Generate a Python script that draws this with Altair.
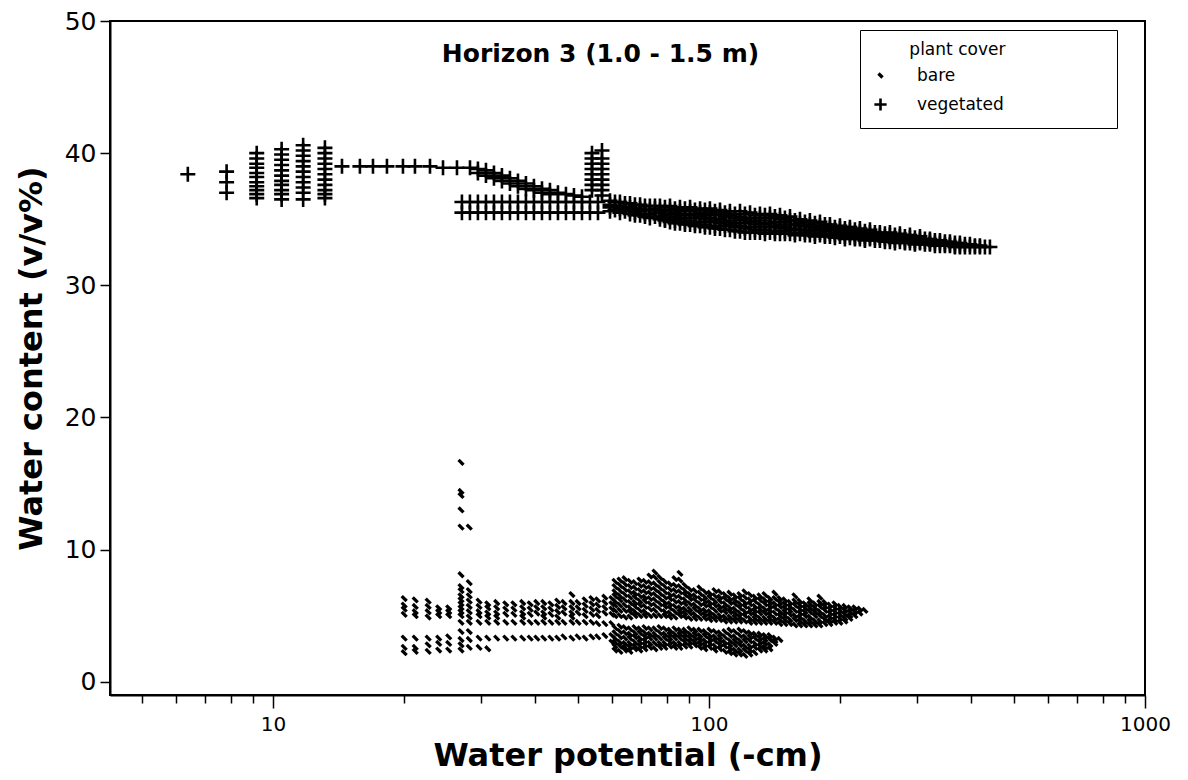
import altair as alt
import pandas as pd

# ---------------- data ----------------
# vegetated: column positions (water potential, -cm) and the water contents in each column
veg_x = [6.38, 7.83, 9.18, 10.47, 11.73, 13.16,
         14.40, 15.83, 16.96, 18.26, 19.87, 21.17, 22.92, 24.55, 26.43, 28.31,
         29.52, 30.80, 32.13, 33.51, 34.96, 36.47, 38.04, 39.68, 41.40, 43.18, 45.05, 46.99, 49.02, 51.14,
         27.13, 28.30, 29.52, 30.80, 32.13, 33.51, 34.96, 36.47, 38.04, 39.68, 41.40, 43.18, 45.05, 46.99,
         49.02, 51.14, 53.34, 55.65,
         53.92, 56.84,
         59.3, 62.5, 65.9, 69.5, 73.2, 77.2, 81.4, 85.8, 90.5, 95.4, 100.5, 106.0, 111.7, 117.8, 124.2,
         130.9, 138.0, 145.5, 153.4, 161.7, 170.4, 179.7, 189.4, 199.7, 210.5, 221.9, 234.0, 246.6, 260.0,
         274.1, 289.0, 304.7, 321.2, 338.6, 357.0, 376.3, 396.7, 418.2, 440.9,
         60.88, 64.17, 67.65, 71.32, 75.19, 79.26, 83.56, 88.09, 92.87, 97.90, 103.21, 108.80, 114.70,
         120.92, 127.48, 134.39, 141.67, 149.35, 157.45, 165.99, 174.99, 184.47, 194.47, 205.02, 216.14,
         227.86, 240.22, 253.24, 266.98, 281.46, 296.71, 312.80, 329.76, 347.65, 366.50, 386.37, 407.32,
         429.41]
veg_y = [[38.4], [38.6, 37.8, 37.0],
         [40.0, 39.6, 39.2, 38.9, 38.5, 38.2, 37.8, 37.5, 37.2, 36.9, 36.6],
         [40.3, 39.9, 39.5, 39.1, 38.7, 38.3, 37.9, 37.6, 37.2, 36.9, 36.5],
         [40.6, 40.2, 39.8, 39.4, 39.0, 38.6, 38.2, 37.8, 37.4, 37.0, 36.5],
         [40.4, 40.0, 39.6, 39.2, 38.8, 38.4, 38.0, 37.6, 37.2, 36.9, 36.6],
         [39.0], [39.0], [39.0], [39.0], [39.0], [39.0], [39.0], [38.9], [38.9], [38.9],
         [38.8, 38.5], [38.7, 38.3], [38.5, 38.1], [38.3, 37.9], [38.1, 37.7], [37.9, 37.5], [37.7, 37.3],
         [37.5, 37.2], [37.3, 37.0], [37.2, 36.9], [37.0], [36.9], [36.8], [36.7],
         [36.3, 35.5], [36.3, 35.5], [36.3, 35.5], [36.3, 35.5], [36.3, 35.5], [36.3, 35.5], [36.3, 35.5],
         [36.3, 35.5], [36.3, 35.5], [36.3, 35.5], [36.3, 35.5], [36.3, 35.5], [36.3, 35.5], [36.3, 35.5],
         [36.3, 35.5], [36.3, 35.5], [36.3, 35.5], [36.3, 35.5],
         [40.0, 39.6, 39.2, 38.8, 38.4, 38.0, 37.6, 37.2],
         [40.2, 39.6, 39.2, 38.8, 38.4, 38.0, 37.6, 37.2, 36.8],
         [36.4, 36.1, 35.9, 35.6], [36.3, 36.0, 35.8, 35.5], [36.2, 35.9, 35.7, 35.4],
         [36.1, 35.8, 35.6, 35.3], [36.0, 35.7, 35.4, 35.1], [36.0, 35.7, 35.5, 35.2, 35.0],
         [36.0, 35.7, 35.4, 35.1, 34.8], [35.9, 35.6, 35.3, 35.0, 34.7], [35.9, 35.6, 35.3, 34.9, 34.6],
         [35.8, 35.5, 35.2, 34.8, 34.5], [35.8, 35.5, 35.1, 34.8, 34.4], [35.7, 35.4, 35.0, 34.7, 34.3],
         [35.6, 35.3, 34.9, 34.6, 34.2], [35.6, 35.2, 34.9, 34.5, 34.1], [35.5, 35.1, 34.8, 34.4, 34.0],
         [35.4, 35.1, 34.7, 34.4, 34.0], [35.4, 35.1, 34.7, 34.4, 34.0], [35.3, 35.0, 34.6, 34.3, 33.9],
         [35.2, 34.9, 34.6, 34.2, 33.9], [35.0, 34.7, 34.5, 34.2, 33.9], [34.9, 34.6, 34.4, 34.1, 33.8],
         [34.8, 34.5, 34.3, 34.0, 33.8], [34.6, 34.4, 34.2, 33.9, 33.7], [34.5, 34.3, 34.1, 33.9, 33.7],
         [34.4, 34.2, 34.0, 33.8, 33.6], [34.3, 34.1, 33.9, 33.7, 33.5], [34.2, 34.0, 33.8, 33.6, 33.5],
         [34.0, 33.8, 33.6, 33.4], [34.0, 33.8, 33.5, 33.3], [33.9, 33.7, 33.5, 33.3],
         [33.8, 33.6, 33.4, 33.2], [33.7, 33.5, 33.3, 33.2], [33.5, 33.4, 33.2, 33.1],
         [33.4, 33.2, 33.0], [33.3, 33.1, 33.0], [33.2, 33.0, 32.9], [33.1, 32.9], [33.0, 32.9], [32.9],
         [36.3, 36.0, 35.7], [36.2, 35.9, 35.6], [36.1, 35.8, 35.5, 35.3], [36.0, 35.7, 35.4, 35.2],
         [36.0, 35.8, 35.5, 35.2], [35.9, 35.6, 35.3, 35.0, 34.9], [35.8, 35.5, 35.2, 34.9, 34.7],
         [35.8, 35.4, 35.1, 34.8, 34.6], [35.7, 35.4, 35.1, 34.7, 34.5], [35.7, 35.3, 35.0, 34.6, 34.4],
         [35.6, 35.3, 34.9, 34.5, 34.3], [35.5, 35.2, 34.8, 34.5, 34.2], [35.4, 35.1, 34.7, 34.4, 34.1],
         [35.4, 35.0, 34.7, 34.3, 34.0], [35.3, 34.9, 34.6, 34.2, 34.0], [35.3, 34.9, 34.6, 34.2, 33.9],
         [35.2, 34.8, 34.5, 34.1, 33.9], [35.1, 34.8, 34.4, 34.1, 33.9], [34.9, 34.6, 34.3, 34.0, 33.8],
         [34.8, 34.5, 34.2, 34.0, 33.8], [34.7, 34.4, 34.2, 33.9, 33.7], [34.6, 34.3, 34.1, 33.8, 33.7],
         [34.4, 34.2, 34.0, 33.8, 33.6], [34.3, 34.1, 33.9, 33.7, 33.5], [34.2, 34.0, 33.8, 33.6, 33.5],
         [34.1, 33.9, 33.7, 33.5, 33.4], [34.0, 33.8, 33.6, 33.4], [33.9, 33.7, 33.5, 33.3],
         [33.8, 33.6, 33.4, 33.2], [33.7, 33.5, 33.3, 33.2], [33.6, 33.4, 33.2, 33.1], [33.5, 33.3, 33.1],
         [33.4, 33.2, 33.0], [33.3, 33.1, 33.0], [33.2, 33.0, 32.9], [33.1, 32.9], [33.0, 32.9], [32.9]]

# bare: column positions and water contents
bare_x = [20.0, 21.2, 22.7, 24.0, 25.3, 27.0, 28.2, 29.7, 31.1, 32.6, 34.2, 35.7, 37.4, 38.9, 40.3,
          41.8, 43.4, 45.0, 46.5, 48.5, 50.1, 52.0, 53.9, 55.6, 57.7, 59.9,
          60.88, 62.50, 64.17, 65.89, 67.65, 69.46, 71.32, 73.23, 75.19, 77.20, 79.26, 81.38, 83.56,
          85.80, 88.09, 90.45, 92.87, 95.35, 97.90, 100.52, 103.21, 105.97, 108.80, 111.71, 114.70,
          117.77, 120.92, 124.16, 127.48, 130.89, 134.39, 137.98, 141.67, 145.46, 149.35, 153.35,
          157.45, 161.66, 165.99, 170.43, 174.99, 179.67, 184.47, 189.41, 194.47, 199.68, 205.02,
          210.51, 216.14, 221.92, 227.86]
bare_y = [[6.3, 5.8, 5.5, 5.1, 3.3, 2.6, 2.2], [6.2, 5.7, 5.3, 5.0, 3.3, 2.6, 2.3],
          [6.1, 5.7, 5.3, 4.9, 3.3, 2.8, 2.3], [5.6, 5.3, 5.0, 3.3, 2.9, 2.4], [5.6, 5.3, 5.0, 3.4, 2.9, 2.4],
          [16.6, 14.4, 14.1, 13.0, 11.7, 8.1, 7.2, 6.9, 6.5, 6.2, 5.9, 5.6, 5.3, 5.0, 4.5, 3.8, 3.2, 2.8, 2.4],
          [11.7, 7.5, 6.9, 6.5, 6.1, 5.7, 5.3, 4.9, 4.5, 3.8, 3.2, 2.6],
          [6.1, 5.7, 5.3, 5.0, 4.5, 3.3, 2.6], [5.9, 5.6, 5.2, 4.9, 4.5, 3.3, 2.5],
          [6.0, 5.6, 5.2, 4.9, 4.5, 3.3], [5.9, 5.5, 5.1, 4.5, 3.3], [5.9, 5.5, 5.1, 4.5, 3.3],
          [6.0, 5.6, 5.2, 4.9, 4.5, 3.3], [5.9, 5.5, 5.1, 4.5, 3.3], [6.0, 5.6, 5.2, 4.5, 3.3],
          [6.0, 5.6, 5.2, 4.9, 4.5, 3.3], [5.9, 5.5, 5.1, 4.5, 3.3], [6.1, 5.7, 5.3, 4.9, 4.5, 3.3],
          [6.0, 5.6, 5.2, 4.5, 3.4], [6.6, 6.0, 5.6, 5.2, 4.9, 4.5, 3.3], [6.0, 5.6, 5.2, 4.5, 3.4],
          [6.2, 5.8, 5.4, 5.0, 4.5, 3.3], [6.3, 5.9, 5.5, 5.1, 4.5, 3.4], [6.2, 5.8, 5.4, 5.0, 4.4, 3.4],
          [6.4, 6.0, 5.6, 5.2, 4.4, 3.5], [6.3, 5.9, 5.5, 5.1, 4.4, 3.5, 3.0],
          [7.6, 7.2, 6.8, 6.5, 6.1, 5.8, 5.4, 5.0, 4.1, 3.7, 3.3, 3.0, 2.7, 2.4],
          [7.7, 7.3, 6.9, 6.5, 6.2, 5.8, 5.4, 5.0, 4.2, 3.8, 3.4, 3.0, 2.7, 2.3],
          [7.8, 7.4, 7.0, 6.6, 6.2, 5.8, 5.4, 4.9, 4.1, 3.7, 3.3, 2.9, 2.6, 2.4],
          [7.6, 7.2, 6.8, 6.4, 6.0, 5.6, 5.3, 4.9, 4.0, 3.6, 3.3, 2.9, 2.6, 2.3],
          [7.5, 7.1, 6.7, 6.4, 6.0, 5.7, 5.3, 5.0, 4.1, 3.7, 3.4, 3.0, 2.7, 2.5],
          [7.7, 7.3, 6.9, 6.5, 6.1, 5.8, 5.4, 5.0, 4.0, 3.7, 3.3, 3.0, 2.7, 2.4],
          [7.6, 7.2, 6.8, 6.4, 6.1, 5.7, 5.3, 5.0, 4.1, 3.7, 3.4, 3.1, 2.8, 2.5],
          [8.0, 7.5, 7.1, 6.7, 6.3, 5.9, 5.5, 5.0, 4.0, 3.6, 3.3, 2.9, 2.6],
          [8.3, 7.9, 7.4, 7.0, 6.6, 6.2, 5.8, 5.4, 5.0, 4.0, 3.6, 3.3, 2.9, 2.5],
          [7.9, 7.5, 7.1, 6.7, 6.3, 5.9, 5.5, 5.0, 4.1, 3.7, 3.3, 2.9, 2.6],
          [7.6, 7.2, 6.8, 6.4, 6.0, 5.7, 5.3, 5.0, 4.0, 3.6, 3.3, 2.9, 2.6],
          [7.4, 7.0, 6.6, 6.3, 5.9, 5.6, 5.2, 4.9, 3.9, 3.6, 3.3, 3.0, 2.7],
          [7.8, 7.3, 6.9, 6.5, 6.1, 5.7, 5.3, 4.9, 4.0, 3.6, 3.3, 2.9, 2.6],
          [8.2, 7.7, 7.2, 6.8, 6.4, 6.0, 5.6, 5.3, 5.0, 3.9, 3.6, 3.3, 2.9, 2.6],
          [7.3, 6.9, 6.6, 6.2, 5.9, 5.5, 5.2, 4.9, 3.9, 3.6, 3.3, 3.0, 2.7],
          [7.0, 6.6, 6.3, 5.9, 5.5, 5.2, 4.8, 4.0, 3.6, 3.3, 3.0, 2.7],
          [6.9, 6.5, 6.2, 5.8, 5.5, 5.1, 4.8, 3.9, 3.6, 3.3, 3.0, 2.8],
          [7.1, 6.7, 6.3, 5.9, 5.5, 5.2, 4.8, 3.9, 3.5, 3.2, 2.9, 2.6],
          [6.8, 6.4, 6.1, 5.8, 5.4, 5.1, 4.8, 3.8, 3.5, 3.1, 2.8, 2.5],
          [6.7, 6.4, 6.0, 5.7, 5.3, 5.0, 4.7, 3.9, 3.5, 3.2, 2.9, 2.6],
          [6.9, 6.5, 6.1, 5.8, 5.4, 5.0, 4.7, 3.8, 3.4, 3.1, 2.7, 2.4],
          [6.8, 6.4, 6.1, 5.7, 5.4, 5.0, 4.7, 3.7, 3.4, 3.1, 2.8, 2.5],
          [6.6, 6.3, 5.9, 5.6, 5.3, 4.9, 4.6, 3.8, 3.4, 3.0, 2.7, 2.3],
          [6.7, 6.3, 6.0, 5.6, 5.3, 4.9, 4.6, 3.9, 3.5, 3.1, 2.8, 2.5, 2.2],
          [6.5, 6.2, 5.9, 5.5, 5.2, 4.9, 4.6, 3.8, 3.4, 3.1, 2.8, 2.4, 2.1],
          [6.6, 6.3, 5.9, 5.6, 5.2, 4.9, 4.6, 3.9, 3.5, 3.1, 2.8, 2.4, 2.1],
          [6.8, 6.4, 6.0, 5.7, 5.3, 5.0, 4.6, 3.8, 3.4, 3.1, 2.7, 2.4, 2.0],
          [6.6, 6.2, 5.9, 5.5, 5.2, 4.8, 4.5, 3.7, 3.4, 3.1, 2.7, 2.4, 2.1],
          [6.4, 6.1, 5.7, 5.4, 5.1, 4.8, 4.5, 3.6, 3.3, 2.9, 2.6, 2.2],
          [6.5, 6.2, 5.8, 5.5, 5.2, 4.8, 4.5, 3.6, 3.3, 3.0, 2.7, 2.4],
          [6.6, 6.2, 5.9, 5.5, 5.2, 4.8, 4.5, 3.5, 3.2, 2.9, 2.6, 2.4],
          [6.3, 6.0, 5.7, 5.4, 5.1, 4.8, 4.5, 3.5, 3.2, 2.8, 2.5],
          [6.7, 6.3, 5.9, 5.6, 5.2, 4.8, 4.5, 3.3, 3.1, 2.9],
          [6.3, 6.0, 5.7, 5.3, 5.0, 4.7, 4.4, 3.2],
          [6.2, 5.9, 5.6, 5.3, 5.0, 4.7, 4.4], [6.0, 5.7, 5.4, 5.1, 4.7, 4.4],
          [6.5, 6.1, 5.8, 5.4, 5.0, 4.7, 4.3], [6.1, 5.8, 5.5, 5.2, 4.9, 4.6, 4.3],
          [5.9, 5.6, 5.3, 5.0, 4.6, 4.3], [6.2, 5.9, 5.6, 5.3, 4.9, 4.6, 4.3],
          [5.9, 5.6, 5.3, 5.0, 4.6, 4.3], [6.4, 6.0, 5.7, 5.3, 5.0, 4.6, 4.3],
          [6.0, 5.7, 5.4, 5.0, 4.7, 4.4], [5.8, 5.5, 5.2, 4.9, 4.6, 4.4],
          [5.9, 5.6, 5.3, 5.0, 4.7, 4.5], [5.7, 5.4, 5.1, 4.8, 4.5], [5.7, 5.4, 5.1, 4.8, 4.6],
          [5.6, 5.3, 5.0, 4.8], [5.6, 5.3, 5.0], [5.5, 5.2], [5.4]]

cover_labels = ["bare", "vegetated"]
x_ticks = [5, 6, 7, 8, 9, 10, 20, 30, 40, 50, 60, 70, 80, 90, 100,
           200, 300, 400, 500, 600, 700, 800, 900, 1000]
y_ticks = [0, 10, 20, 30, 40, 50]

# ---------------- table ----------------
rows = []
for cover, xs, yss in (("bare", bare_x, bare_y), ("vegetated", veg_x, veg_y)):
    for x, ys in zip(xs, yss):
        for y in ys:
            rows.append({"potential": x, "content": y, "cover": cover})
df = pd.DataFrame(rows)

FONT = "DejaVu Sans"
BARE_PATH = "M-0.33,-0.33L0.33,0.33"
PLUS_PATH = "M-1,0L1,0M0,-1L0,1"
BLANK = "\u2800"

chart = alt.Chart(df).mark_point(
    filled=False, stroke="black", opacity=1, size=225
).encode(
    x=alt.X("potential:Q",
            scale=alt.Scale(type="log", domain=[4.23, 1000], nice=False, zero=False),
            axis=alt.Axis(title="Water potential (-cm)", values=x_ticks,
                          labelExpr="indexof([10,100,1000], datum.value) >= 0 ? datum.value + '' : ''",
                          tickSize={"condition": {"test": "indexof([10,100,1000], datum.value) >= 0",
                                                  "value": 13}, "value": 8},
                          labelFontSize=20, labelPadding=6, labelFlush=False, titlePadding=6)),
    y=alt.Y("content:Q",
            scale=alt.Scale(domain=[-1, 50], nice=False, zero=False),
            axis=alt.Axis(title="Water content (v/v%)", values=y_ticks, tickSize=10,
                          labelFontSize=25, labelPadding=4, titlePadding=16)),
    shape=alt.Shape("cover:N",
                    scale=alt.Scale(domain=cover_labels, range=[BARE_PATH, PLUS_PATH]),
                    legend=alt.Legend(title=BLANK * 3 + "plant cover" + BLANK * 8, orient="none",
                                      legendX=750, legendY=9, strokeColor="black",
                                      padding=12, symbolSize=150, symbolStrokeWidth=2.2,
                                      symbolStrokeColor="black", symbolFillColor="transparent",
                                      labelOffset=28, rowPadding=8, titlePadding=8, titleLimit=400,
                                      titleFontWeight="normal", titleFontSize=17, labelFontSize=17,
                                      titleFont=FONT, labelFont=FONT,
                                      titleColor="black", labelColor="black")),
    strokeWidth=alt.StrokeWidth("cover:N",
                                scale=alt.Scale(domain=cover_labels, range=[3.3, 2.6]),
                                legend=None),
).properties(
    width=1035, height=674,
    title=alt.TitleParams("Horizon 3 (1.0 - 1.5 m)", anchor="middle", dx=-27, offset=-58,
                          fontSize=25, fontWeight="bold", font=FONT, color="black"),
    autosize=alt.AutoSizeParams(type="none"),
    padding={"left": 110, "top": 21, "right": 43, "bottom": 85},
).configure_view(
    stroke="black", strokeWidth=2
).configure_axis(
    grid=False, domainColor="black", domainWidth=2, tickColor="black", tickWidth=1.5,
    labelFont=FONT, labelColor="black",
    titleFont=FONT, titleFontSize=32, titleFontWeight="bold", titleColor="black"
)

chart.save("out.html", embed_options={"renderer": "svg", "actions": False})
